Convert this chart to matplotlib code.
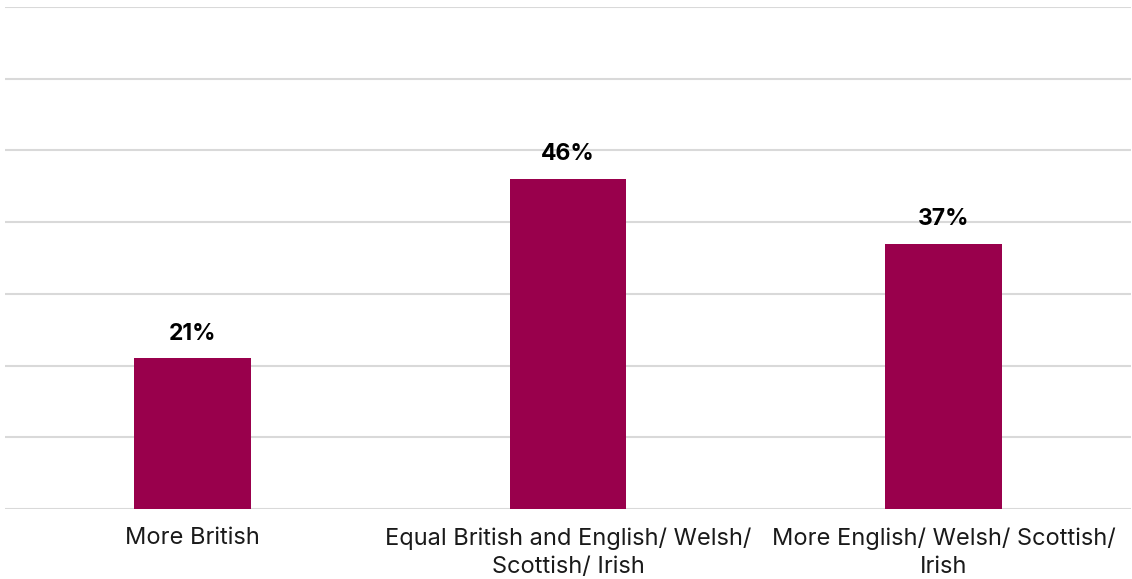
import matplotlib.pyplot as plt

plt.rcParams['font.family'] = ['Inter', 'DejaVu Sans']

categories = ['More British',
              'Equal British and English/ Welsh/\nScottish/ Irish',
              'More English/ Welsh/ Scottish/\nIrish']
shares = [21, 46, 37]

bar_color = '#99004C'
grid_color = '#d9d9d9'

fig = plt.figure(figsize=(11.32, 5.79), dpi=100)
ax = fig.add_axes([4.75 / 1132, 70 / 579, 1126.5 / 1132, 502 / 579])

x = range(len(categories))
bars = ax.bar(x, shares, width=0.31, color=bar_color, zorder=2)

for rect, v in zip(bars, shares):
    ax.annotate(f'{v}%', (rect.get_x() + rect.get_width() / 2, v),
                xytext=(0, 10), textcoords='offset points',
                ha='center', va='bottom', fontsize=16.5, fontweight='bold',
                color='black', zorder=3)

ax.set_xlim(-0.5, len(categories) - 0.5)
ax.set_ylim(0, 70)
ax.set_yticks(range(0, 71, 10))
ax.set_yticklabels([])
ax.tick_params(axis='y', length=0)
ax.tick_params(axis='x', length=0, pad=13)
ax.set_xticks(list(x))
ax.set_xticklabels(categories, fontsize=17, color='#1a1a1a', linespacing=1.4)

ax.grid(axis='y', color=grid_color, linewidth=1.5, zorder=0)
for s in ax.spines.values():
    s.set_visible(False)

fig.savefig('out.png', dpi=100)
